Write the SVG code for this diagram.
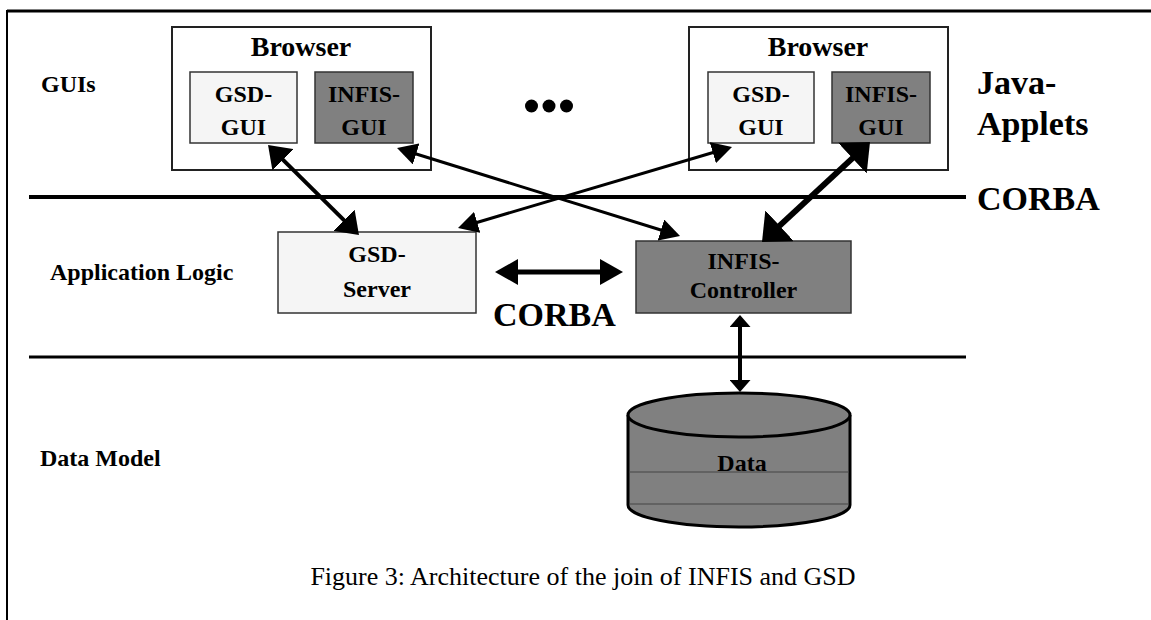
<svg xmlns="http://www.w3.org/2000/svg" width="1151" height="620" viewBox="0 0 1151 620">
<style>
.lbl{font-family:"Liberation Serif","Times New Roman",serif;font-weight:bold;fill:#000}
.s24{font-size:24px}
.s28{font-size:28px}
.s34{font-size:34px}
.cap{font-family:"Liberation Serif","Times New Roman",serif;font-size:26px;fill:#000}
.mid{text-anchor:middle}
.browser{fill:#fff;stroke:#222;stroke-width:2}
.light{fill:#f5f5f5;stroke:#333;stroke-width:1.5}
.dark{fill:#808080;stroke:#333;stroke-width:1.5}
.sep{stroke:#000;fill:none}
.conn{stroke:#000;fill:none}
</style>
<defs>
<marker id="hThin" markerUnits="userSpaceOnUse" markerWidth="20" markerHeight="22" refX="10" refY="11" orient="auto-start-reverse"><path d="M0,0 L20,11 L0,22 z" fill="#000"/></marker>
<marker id="hThick" markerUnits="userSpaceOnUse" markerWidth="21" markerHeight="30" refX="10.5" refY="15" orient="auto-start-reverse"><path d="M0,0 L21,15 L0,30 z" fill="#000"/></marker>
<marker id="hBig" markerUnits="userSpaceOnUse" markerWidth="24" markerHeight="42" refX="12" refY="21" orient="auto-start-reverse"><path d="M0,0 L24,21 L0,42 z" fill="#000"/></marker>
<marker id="hHor" markerUnits="userSpaceOnUse" markerWidth="23" markerHeight="26" refX="11.5" refY="13" orient="auto-start-reverse"><path d="M0,0 L23,13 L0,26 z" fill="#000"/></marker>
<marker id="hVer" markerUnits="userSpaceOnUse" markerWidth="12" markerHeight="21" refX="6" refY="10.5" orient="auto-start-reverse"><path d="M0,0 L12,10.5 L0,21 z" fill="#000"/></marker>
</defs>
<rect width="1151" height="620" fill="#fff"/>
<g id="frame">
<line x1="7" y1="11" x2="1151" y2="11" stroke="#000" stroke-width="3"/>
<line x1="7" y1="10" x2="7" y2="620" stroke="#000" stroke-width="2"/>
</g>
<g id="layers">
<line class="sep" x1="29" y1="197" x2="966" y2="197" stroke-width="4"/>
<line class="sep" x1="29" y1="357" x2="966" y2="357" stroke-width="3"/>
<text class="lbl s24" x="41" y="92">GUIs</text>
<text class="lbl s24" x="50" y="280">Application Logic</text>
<text class="lbl s24" x="40" y="466">Data Model</text>
<text class="lbl s34" x="977" y="94">Java-</text>
<text class="lbl s34" x="977" y="135">Applets</text>
<text class="lbl s34" x="977" y="210">CORBA</text>
</g>
<g id="browser1">
<rect class="browser" x="172" y="27" width="259" height="143"/>
<text class="lbl s28 mid" x="301" y="56">Browser</text>
</g>
<g id="gsd-gui-1">
<rect class="light" x="190" y="72" width="107" height="71"/>
<text class="lbl s24 mid" x="243.5" y="102">GSD-</text>
<text class="lbl s24 mid" x="243.5" y="135">GUI</text>
</g>
<g id="infis-gui-1">
<rect class="dark" x="315" y="72" width="98" height="71"/>
<text class="lbl s24 mid" x="364" y="102">INFIS-</text>
<text class="lbl s24 mid" x="364" y="135">GUI</text>
</g>
<g id="ellipsis">
<circle cx="531.5" cy="106" r="6.5" fill="#000"/>
<circle cx="549" cy="106" r="6.5" fill="#000"/>
<circle cx="566.5" cy="106" r="6.5" fill="#000"/>
</g>
<g id="browser2">
<rect class="browser" x="689" y="27" width="259" height="143"/>
<text class="lbl s28 mid" x="818" y="56">Browser</text>
</g>
<g id="gsd-gui-2">
<rect class="light" x="708" y="72" width="106" height="71"/>
<text class="lbl s24 mid" x="761" y="102">GSD-</text>
<text class="lbl s24 mid" x="761" y="135">GUI</text>
</g>
<g id="infis-gui-2">
<rect class="dark" x="832" y="72" width="98" height="71"/>
<text class="lbl s24 mid" x="881" y="102">INFIS-</text>
<text class="lbl s24 mid" x="881" y="135">GUI</text>
</g>
<g id="gsd-server">
<rect class="light" x="278" y="232" width="198" height="81"/>
<text class="lbl s24 mid" x="377" y="262">GSD-</text>
<text class="lbl s24 mid" x="377" y="297">Server</text>
</g>
<g id="infis-controller">
<rect class="dark" x="636" y="241" width="215" height="72"/>
<text class="lbl s24 mid" x="743.5" y="269">INFIS-</text>
<text class="lbl s24 mid" x="743.5" y="298">Controller</text>
</g>
<g id="data">
<path d="M628,415 L628,505 A111,22 0 0 0 850,505 L850,415" fill="#808080" stroke="#000" stroke-width="3"/>
<line x1="629" y1="472" x2="849" y2="472" stroke="#444" stroke-width="1"/>
<line x1="629" y1="504" x2="849" y2="504" stroke="#444" stroke-width="1"/>
<ellipse cx="739" cy="415" rx="111" ry="22" fill="#808080" stroke="#000" stroke-width="3"/>
<text class="lbl s24 mid" x="742" y="471">Data</text>
</g>
<g id="connectors">
<line class="conn" x1="275.5" y1="152.4" x2="351.5" y2="227.6" stroke-width="4" marker-start="url(#hThick)" marker-end="url(#hThick)"/>
<line class="conn" x1="406.6" y1="151" x2="670.5" y2="233" stroke-width="3" marker-start="url(#hThin)" marker-end="url(#hThin)"/>
<line class="conn" x1="467.6" y1="225.2" x2="722.4" y2="149.8" stroke-width="3" marker-start="url(#hThin)" marker-end="url(#hThin)"/>
<line class="conn" x1="770.8" y1="233.9" x2="861.2" y2="150.1" stroke-width="6" marker-start="url(#hBig)" marker-end="url(#hBig)"/>
<line class="conn" x1="506.5" y1="272" x2="611.5" y2="272" stroke-width="5" marker-start="url(#hHor)" marker-end="url(#hHor)"/>
<line class="conn" x1="740" y1="321" x2="740" y2="386" stroke-width="4" marker-start="url(#hVer)" marker-end="url(#hVer)"/>
<text class="lbl s34" x="493" y="326">CORBA</text>
</g>
<g id="caption">
<text class="cap mid" x="583" y="585">Figure 3: Architecture of the join of INFIS and GSD</text>
</g>
</svg>
